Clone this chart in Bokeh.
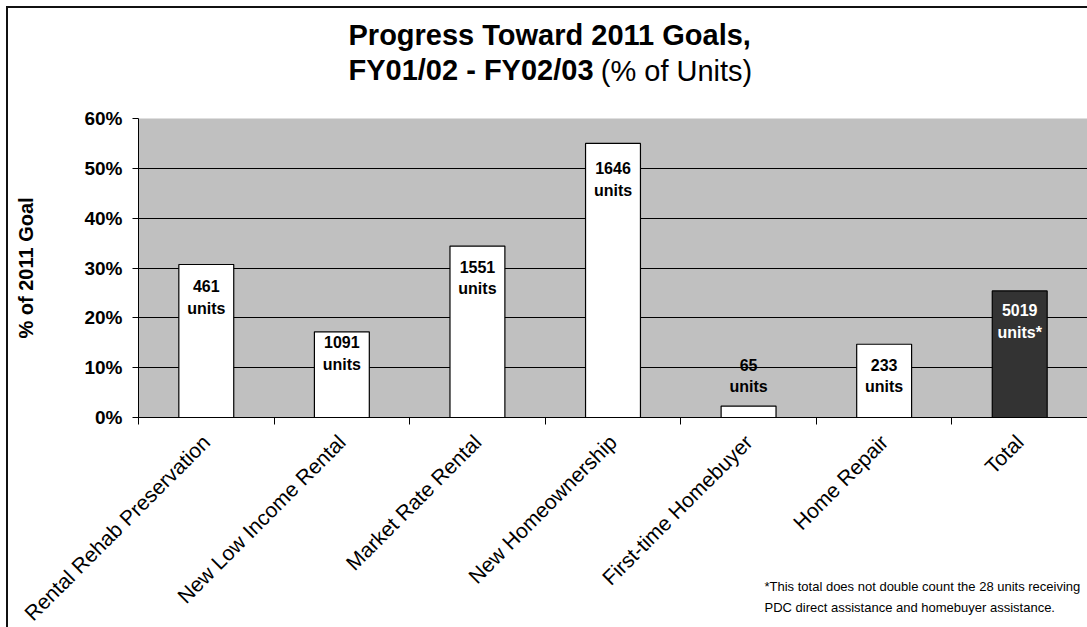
import math
from bokeh.plotting import figure
from bokeh.models import (Range1d, LinearAxis, FixedTicker, Grid, Title,
                          PrintfTickFormatter, ColumnDataSource)
from bokeh.core.properties import value
from bokeh.embed import file_html
from bokeh.resources import INLINE

# ---- data ----
categories = ["Rental Rehab Preservation", "New Low Income Rental", "Market Rate Rental",
              "New Homeownership", "First-time Homebuyer", "Home Repair", "Total"]
pct_of_goal = [30.7, 17.2, 34.4, 55.0, 2.3, 14.7, 25.4]
unit_counts = ["461", "1091", "1551", "1646", "65", "233", "5019"]
unit_words = ["units", "units", "units", "units", "units", "units", "units*"]
y_ticks = [0, 10, 20, 30, 40, 50, 60]

# label anchor heights (first line), in % units
label_pos = [26.3, 15.1, 30.3, 50.0, 10.6, 10.6, 21.5]

title_line1 = "Progress Toward 2011 Goals,"
title_line2a = "FY01/02 - FY02/03"
title_line2b = "(% of Units)"
footnote1 = "*This total does not double count the 28 units receiving"
footnote2 = "PDC direct assistance and homebuyer assistance."

FONT = "Liberation Sans"

n = len(categories)
xc = [i + 0.5 for i in range(n)]

# frame geometry in pixels
FL, FR, FT, FB = 138, 1087, 118, 417
def px_to_x(px):
    return (px - FL) / (FR - FL) * n

p = figure(width=1087, height=627, output_backend="svg", toolbar_location=None,
           x_range=Range1d(0, n), y_range=Range1d(0, 60),
           x_axis_type=None, y_axis_type=None,
           min_border_left=FL, min_border_right=0, min_border_top=FT, min_border_bottom=627 - FB)
p.background_fill_color = "#C0C0C0"
p.border_fill_alpha = 0
p.outline_line_color = None
# outer chart border (top and left edges)
p.stylesheets = [
    ":host { background: white; box-shadow: inset 6px 6px 0 0 white, inset 8px 8px 0 0 #111; }"
]

# y axis
yaxis = LinearAxis(ticker=FixedTicker(ticks=y_ticks), formatter=PrintfTickFormatter(format="%d%%"),
                   axis_label="% of 2011 Goal")
yaxis.axis_label_text_font = FONT
yaxis.axis_label_text_font_size = "20px"
yaxis.axis_label_text_font_style = "bold"
yaxis.axis_label_text_color = "black"
yaxis.axis_label_standoff = 44
yaxis.major_label_text_font = FONT
yaxis.major_label_text_font_size = "19px"
yaxis.major_label_text_font_style = "bold"
yaxis.major_label_text_color = "black"
yaxis.major_label_standoff = 10
yaxis.major_tick_out = 6
yaxis.major_tick_in = 0
yaxis.minor_tick_line_color = None
yaxis.axis_line_color = "black"
yaxis.major_tick_line_color = "black"
p.add_layout(yaxis, "left")

# gridlines
p.add_layout(Grid(dimension=1, ticker=FixedTicker(ticks=y_ticks[1:-1]), grid_line_color="black",
                  grid_line_width=1))
p.add_layout(Grid(dimension=1, ticker=FixedTicker(ticks=[y_ticks[-1]]), grid_line_color="#808080",
                  grid_line_width=2))

# x axis: category labels at centres, boundary ticks as minor ticks
xaxis = LinearAxis(ticker=FixedTicker(ticks=xc, minor_ticks=list(range(n + 1))),
                   major_label_overrides={x: c for x, c in zip(xc, categories)},
                   axis_label="\u00a0")
xaxis.major_label_orientation = math.pi / 4
xaxis.major_label_text_font = FONT
xaxis.major_label_text_font_size = "21px"
xaxis.major_label_text_color = "black"
xaxis.major_label_standoff = 14
xaxis.major_tick_out = 0
xaxis.major_tick_in = 0
xaxis.major_tick_line_color = None
xaxis.minor_tick_out = 7
xaxis.minor_tick_in = 0
xaxis.minor_tick_line_color = "black"
xaxis.axis_line_color = "black"
xaxis.axis_label_text_font_size = "13px"
xaxis.axis_label_standoff = -76
p.add_layout(xaxis, "below")

# footnote (below the category axis)
p.add_layout(Title(text=footnote1 + "\n" + footnote2, align="left", offset=626, standoff=0,
                   vertical_align="top", text_font=FONT, text_font_size="13px",
                   text_font_style="normal", text_line_height=1.44, text_color="black"), "below")

# bars
src = ColumnDataSource(dict(x=xc, top=pct_of_goal,
                            fill=["white"] * (n - 1) + ["#333333"],
                            tcol=["black"] * (n - 1) + ["white"],
                            l1=label_pos, l2=[v - 4.4 for v in label_pos],
                            t1=unit_counts, t2=unit_words))
p.vbar(x="x", top="top", bottom=0, width=0.405, fill_color="fill", line_color="black",
       line_width=1.2, source=src)
for ycol, tcol in (("l1", "t1"), ("l2", "t2")):
    p.text(x="x", y=ycol, text=tcol, source=src, text_font=value(FONT), text_font_size="16px",
           text_font_style="bold", text_align="center", text_baseline="middle", text_color="tcol")

# title line 2: two label-only axes above the plot sharing one row
def title_axis(text, style, centre_px, standoff):
    pos = px_to_x(centre_px)
    ax = LinearAxis(ticker=FixedTicker(ticks=[pos]), major_label_overrides={pos: text})
    ax.major_label_text_font = FONT
    ax.major_label_text_font_size = "29px"
    ax.major_label_text_font_style = style
    ax.major_label_text_color = "black"
    ax.major_label_standoff = standoff
    ax.major_tick_out = 0
    ax.major_tick_in = 0
    ax.major_tick_line_color = None
    ax.minor_tick_line_color = None
    ax.axis_line_color = None
    p.add_layout(ax, "above")

title_axis(title_line2b, "normal", 676, 32)
title_axis(title_line2a, "bold", 470.5, -34)

# title line 1
p.add_layout(Title(text=title_line1, align="left", offset=210, standoff=0, vertical_align="bottom",
                   text_font=FONT, text_font_size="29px", text_font_style="bold",
                   text_color="black"), "above")

open("out.html", "w").write(file_html(p, INLINE))
